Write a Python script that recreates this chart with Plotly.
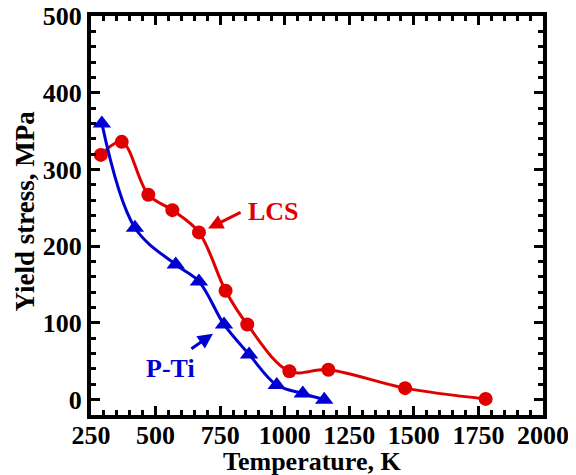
import plotly.graph_objects as go

lcs_T = [288, 369, 472, 565, 668, 771, 855, 1018, 1169, 1466, 1778]
lcs_Y = [319, 336, 267, 247, 218, 142, 98, 37, 39, 15, 1]
pti_T = [292, 420, 578, 668, 765, 862, 969, 1070, 1153]
pti_Y = [360, 224, 176, 154, 98, 59, 19, 8, 0]

RED = "#e00000"
BLUE = "#0000d0"
FONT = "Liberation Serif"

fig = go.Figure()
fig.add_trace(go.Scatter(x=lcs_T, y=lcs_Y, mode="lines+markers", name="LCS",
                         line=dict(color=RED, width=3, shape="spline", smoothing=1.0),
                         marker=dict(symbol="circle", size=14, color=RED)))
fig.add_trace(go.Scatter(x=pti_T, y=pti_Y, mode="lines+markers", name="P-Ti",
                         line=dict(color=BLUE, width=3, shape="spline", smoothing=1.0),
                         marker=dict(symbol="triangle-up", size=16, color=BLUE)))

axis_common = dict(showgrid=False, zeroline=False, showline=True, linecolor="black",
                   linewidth=4, mirror="ticks", ticks="inside", ticklen=9, tickwidth=3,
                   tickcolor="black", automargin=False, ticklabeloverflow="allow",
                   tickfont=dict(family=FONT, size=26, color="black"),
                   tickprefix="<b>", ticksuffix="</b>")

fig.update_xaxes(range=[250, 2000], dtick=250, tick0=250, ticklabelstandoff=-6,
                 minor=dict(ticks="inside", dtick=50, ticklen=5, tickwidth=3, tickcolor="black"),
                 **axis_common)
fig.update_yaxes(range=[-20, 500], dtick=100, tick0=0,
                 minor=dict(ticks="inside", dtick=20, ticklen=5, tickwidth=3, tickcolor="black"),
                 **axis_common)

# axis titles
fig.add_annotation(x=0.49, y=0, xref="paper", yref="paper", xanchor="center", yanchor="middle",
                   yshift=-46, showarrow=False, text="<b>Temperature, K</b>",
                   font=dict(family=FONT, size=26, color="black"))
fig.add_annotation(x=0, y=0.5, xref="paper", yref="paper", xanchor="center", yanchor="middle",
                   xshift=-67, yshift=4, textangle=-90, showarrow=False,
                   text="<b>Yield stress, MPa</b>",
                   font=dict(family=FONT, size=27, color="black"))

# LCS arrow and label
fig.add_annotation(x=703, y=223, ax=835, ay=245, axref="x", ayref="y", xref="x", yref="y",
                   text="", showarrow=True, arrowhead=2, arrowsize=1, arrowwidth=3,
                   arrowcolor=RED)
fig.add_annotation(x=955, y=245, text="<b>LCS</b>", showarrow=False,
                   font=dict(family=FONT, size=26, color=RED))
# P-Ti arrow and label
fig.add_annotation(x=722, y=86, ax=633, ay=65, axref="x", ayref="y", xref="x", yref="y",
                   text="", showarrow=True, arrowhead=2, arrowsize=1, arrowwidth=3,
                   arrowcolor=BLUE)
fig.add_annotation(x=556, y=40, text="<b>P-Ti</b>", showarrow=False,
                   font=dict(family=FONT, size=26, color=BLUE))

# page body has an 8px margin, so the figure is shifted by 8px
fig.update_layout(width=568, height=467, showlegend=False,
                  plot_bgcolor="white", paper_bgcolor="white",
                  margin=dict(l=83, r=33, t=8, b=60))

fig.write_html("out.html")
